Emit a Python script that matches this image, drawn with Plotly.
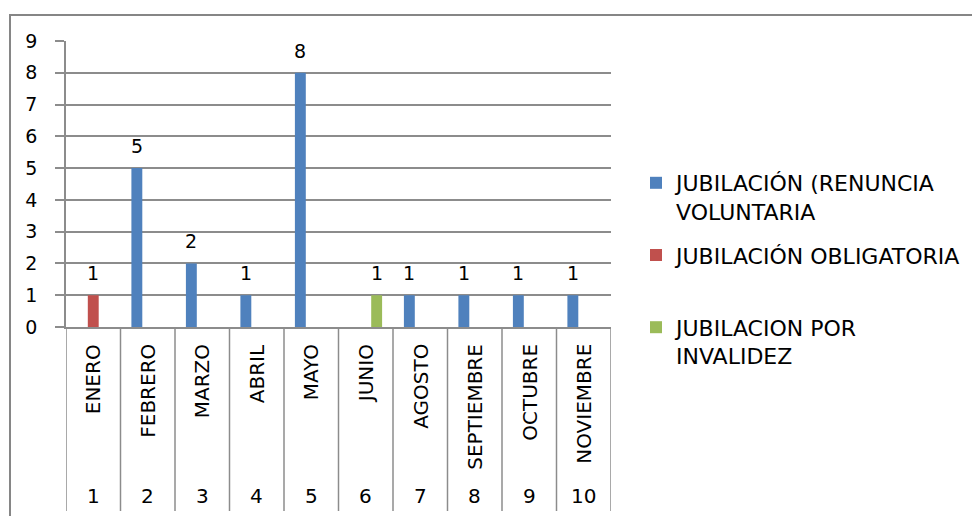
import plotly.graph_objects as go

months = ['ENERO', 'FEBRERO', 'MARZO', 'ABRIL', 'MAYO', 'JUNIO',
          'AGOSTO', 'SEPTIEMBRE', 'OCTUBRE', 'NOVIEMBRE']
month_numbers = ['1', '2', '3', '4', '5', '6', '7', '8', '9', '10']

voluntaria = [None, 5, 2, 1, 8, None, 1, 1, 1, 1]
obligatoria = [1, None, None, None, None, None, None, None, None, None]
invalidez = [None, None, None, None, None, 1, None, None, None, None]

series_names = [
    'JUBILACIÓN (RENUNCIA<br>VOLUNTARIA',
    'JUBILACIÓN OBLIGATORIA<br>&nbsp;',
    'JUBILACION POR<br>INVALIDEZ',
]
series_values = [voluntaria, obligatoria, invalidez]
series_colors = ['#4F81BD', '#C0504D', '#9BBB59']

FONT = 'DejaVu Sans'
GRID = '#8c8c8c'

# the page body has an 8px margin, so the figure is shrunk by that much
OFF = 8
W, H = 980 - OFF, 516 - OFF
# plot area in screen pixels
L, R, T, B = 66, 611, 41, 327
plot_w = R - L
plot_h = B - T
cat_px = plot_w / len(months)
bar_px = cat_px * 0.2


def py(px):
    # screen row -> paper y
    return (B - px) / plot_h


def px_x(px):
    return (px - L) / plot_w


fig = go.Figure()

for i, (name, vals, color) in enumerate(zip(series_names, series_values, series_colors)):
    fig.add_trace(go.Bar(
        x=months,
        y=vals,
        name=name,
        marker=dict(color=color, line=dict(width=0)),
        legendgroup=str(i),
    ))
    for m, v in zip(months, vals):
        if v is None:
            continue
        fig.add_annotation(
            x=m, y=v, xref='x', yref='y',
            text=str(v), showarrow=False,
            xshift=(i - 1) * bar_px, yshift=22,
            yanchor='middle',
            font=dict(family=FONT, size=19, color='#000000'),
        )

# category labels (two levels)
for m, n in zip(months, month_numbers):
    fig.add_annotation(
        x=m, y=py(342), xref='x', yref='paper',
        text=m, showarrow=False, textangle=-90,
        xanchor='center', yanchor='top',
        font=dict(family=FONT, size=20, color='#000000'),
    )
    fig.add_annotation(
        x=m, y=py(496), xref='x', yref='paper',
        text=n, showarrow=False,
        xanchor='center', yanchor='middle',
        font=dict(family=FONT, size=20, color='#000000'),
    )

# category separators
for k in range(len(months) + 1):
    fig.add_shape(
        type='line', xref='x', yref='paper',
        x0=k - 0.5, x1=k - 0.5, y0=0, y1=py(511),
        line=dict(color=GRID, width=1.5),
    )

# outer chart frame
fig.add_shape(
    type='rect', xref='paper', yref='paper',
    x0=px_x(10), x1=px_x(990), y0=py(15), y1=py(530),
    line=dict(color='#868686', width=2),
)

fig.update_layout(
    width=W, height=H,
    margin=dict(l=L - OFF, r=980 - R, t=T - OFF, b=516 - B, pad=0),
    paper_bgcolor='white',
    plot_bgcolor='white',
    barmode='group',
    bargap=0.4,
    bargroupgap=0,
    showlegend=True,
    legend=dict(
        x=px_x(636), xanchor='left',
        y=py(162), yanchor='top',
        valign='top',
        tracegroupgap=12,
        font=dict(family=FONT, size=22, color='#000000'),
        bgcolor='rgba(0,0,0,0)',
    ),
    xaxis=dict(
        showticklabels=False,
        ticks='',
        showgrid=False,
        showline=True,
        linecolor=GRID,
        linewidth=1.5,
        range=[-0.5, len(months) - 0.5],
        fixedrange=True,
    ),
    yaxis=dict(
        range=[0, 9],
        dtick=1,
        showgrid=True,
        gridcolor=GRID,
        gridwidth=1.5,
        zeroline=False,
        showline=True,
        linecolor=GRID,
        linewidth=1.5,
        ticks='outside',
        ticklen=9,
        tickcolor=GRID,
        tickwidth=1.5,
        ticklabelstandoff=14,
        tickfont=dict(family=FONT, size=19, color='#000000'),
    ),
)

fig.write_html('out.html')
